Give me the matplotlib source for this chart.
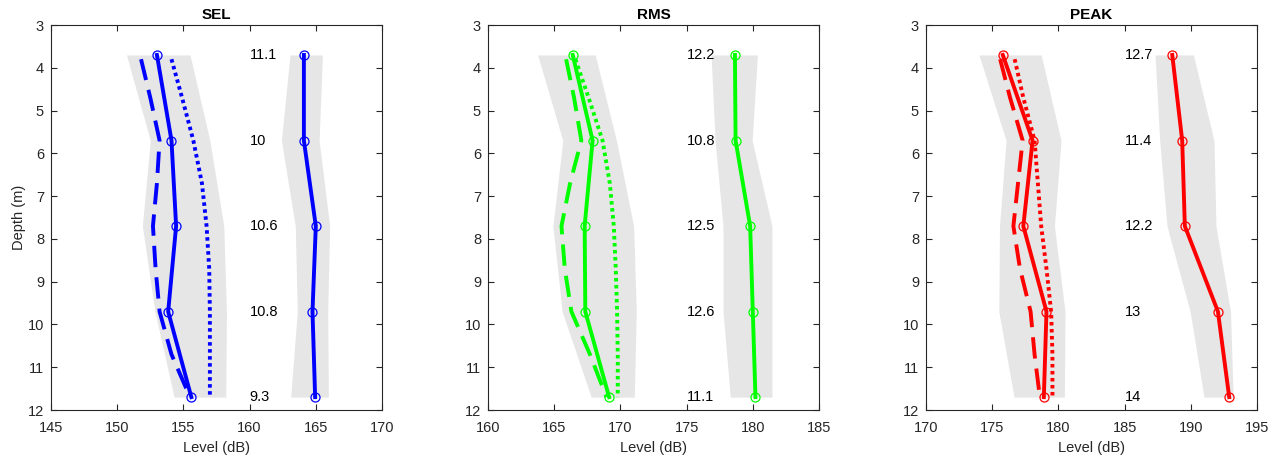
import matplotlib
matplotlib.use("Agg")
import matplotlib.pyplot as plt

plt.rcParams['font.family'] = ['Liberation Sans', 'DejaVu Sans']

depth = [3.7, 5.7, 7.7, 9.7, 11.7]
curve_depth = [3.8, 4.7, 5.7, 6.7, 7.7, 8.7, 9.7, 10.7, 11.7]

titles = ['SEL', 'RMS', 'PEAK']
colors = ['#0000ff', '#00ff00', '#ff0000']
xlims = [(145, 170), (160, 185), (170, 195)]

# measured profile + spread band
sel_solid = [153.0, 154.1, 154.45, 153.85, 155.6]
sel_lo = [150.7, 152.5, 151.9, 152.85, 154.3]
sel_hi = [155.5, 157.0, 158.05, 158.25, 158.2]
sel_dashed = [151.8, 152.5, 153.2, 153.0, 152.7, 152.9, 153.2, 154.1, 155.5]
sel_dotted = [154.1, 154.9, 155.75, 156.4, 156.75, 156.95, 157.0, 157.0, 157.0]
sel_right = [164.1, 164.1, 165.0, 164.75, 164.95]
sel_right_lo = [163.05, 162.4, 163.45, 163.6, 163.1]
sel_right_hi = [165.5, 165.25, 166.05, 165.9, 165.95]
sel_labels = ['11.1', '10', '10.6', '10.8', '9.3']

rms_solid = [166.4, 167.9, 167.3, 167.35, 169.15]
rms_lo = [163.75, 165.65, 164.9, 165.6, 167.8]
rms_hi = [168.1, 169.7, 171.0, 171.2, 171.05]
rms_dashed = [165.9, 166.5, 167.05, 166.2, 165.55, 165.8, 166.3, 167.7, 168.95]
rms_dotted = [166.6, 167.6, 168.65, 169.2, 169.5, 169.65, 169.75, 169.8, 169.8]
rms_right = [178.65, 178.7, 179.8, 180.0, 180.2]
rms_right_lo = [176.85, 177.15, 177.75, 177.75, 178.3]
rms_right_hi = [180.35, 179.95, 181.45, 181.45, 181.45]
rms_labels = ['12.2', '10.8', '12.5', '12.6', '11.1']

peak_solid = [175.8, 178.05, 177.35, 179.1, 178.9]
peak_lo = [174.0, 176.05, 175.55, 175.5, 176.65]
peak_hi = [178.7, 180.2, 179.7, 180.5, 180.45]
peak_dashed = [175.6, 176.35, 177.3, 176.95, 176.6, 177.1, 177.9, 178.2, 178.6]
peak_dotted = [176.7, 177.35, 178.2, 178.45, 178.7, 179.1, 179.45, 179.55, 179.55]
peak_right = [188.6, 189.35, 189.55, 192.05, 192.9]
peak_right_lo = [187.3, 187.65, 188.2, 189.95, 191.0]
peak_right_hi = [190.2, 191.75, 191.9, 193.0, 193.2]
peak_labels = ['12.7', '11.4', '12.2', '13', '14']

panels = [
    (sel_solid, sel_lo, sel_hi, sel_dashed, sel_dotted, sel_right, sel_right_lo, sel_right_hi, sel_labels),
    (rms_solid, rms_lo, rms_hi, rms_dashed, rms_dotted, rms_right, rms_right_lo, rms_right_hi, rms_labels),
    (peak_solid, peak_lo, peak_hi, peak_dashed, peak_dotted, peak_right, peak_right_lo, peak_right_hi, peak_labels),
]

axcol = '#262626'
fs = 10.5
fig = plt.figure(figsize=(12.81, 4.57), dpi=100)
lefts = [51 / 1281, 488 / 1281, 926 / 1281]

for i in range(3):
    solid, lo, hi, dashed, dotted, right, rlo, rhi, labels = panels[i]
    c = colors[i]
    ax = fig.add_axes([lefts[i], 1 - 410 / 457, 331 / 1281, 385 / 457])

    ax.fill_betweenx(depth, lo, hi, color='#e6e6e6', lw=0, zorder=1)
    ax.fill_betweenx(depth, rlo, rhi, color='#e6e6e6', lw=0, zorder=1)

    ax.plot(dashed, curve_depth, color=c, lw=2.8, dashes=(5.5, 2.6), zorder=2)
    ax.plot(dotted, curve_depth, color=c, lw=2.8, dashes=(0.9, 0.9), zorder=2)
    ax.plot(solid, depth, color=c, lw=2.8, marker='o', ms=6.5, mfc='none', mew=0.9, zorder=3)
    ax.plot(right, depth, color=c, lw=2.8, marker='o', ms=6.5, mfc='none', mew=0.9, zorder=3)

    x0 = xlims[i][0] + 15
    for d, t in zip(depth, labels):
        ax.text(x0, d, t, ha='left', va='center', fontsize=fs, color='black')

    ax.set_xlim(xlims[i])
    ax.set_ylim(12, 3)
    ax.set_xticks(range(xlims[i][0], xlims[i][1] + 1, 5))
    ax.set_yticks(range(3, 13))
    ax.tick_params(direction='in', top=True, right=True, length=4, width=0.8,
                   labelsize=fs, colors=axcol)
    ax.tick_params(axis='x', pad=8)
    ax.tick_params(axis='y', pad=5)
    for s in ax.spines.values():
        s.set_color(axcol)
        s.set_linewidth(0.8)
    ax.set_title(titles[i], fontsize=11, fontweight='bold', pad=4)
    ax.set_xlabel('Level (dB)', fontsize=fs, color=axcol, labelpad=4)
    if i == 0:
        ax.set_ylabel('Depth (m)', fontsize=fs, color=axcol, labelpad=1)

fig.savefig('out.png', dpi=100)
